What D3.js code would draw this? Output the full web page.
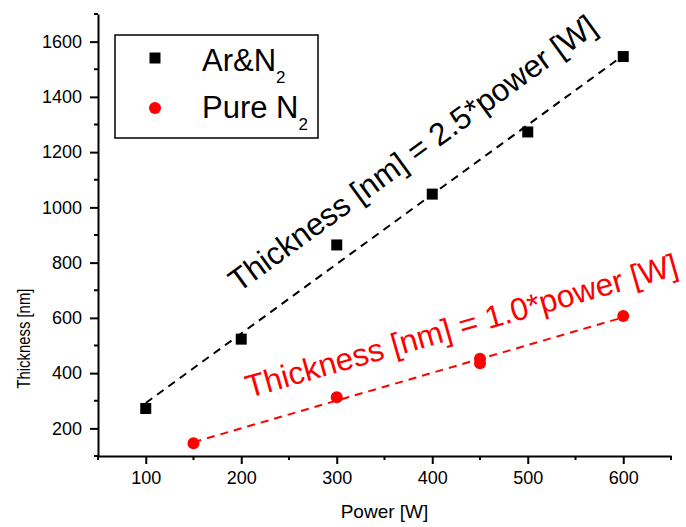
<!DOCTYPE html>
<html>
<head>
<meta charset="utf-8">
<script src="https://cdn.jsdelivr.net/npm/d3@7"></script>
<style>
  body { margin: 0; background: #fff; }
  svg { display: block; font-family: Arial, "Liberation Sans", sans-serif; }
</style>
</head>
<body>
<div id="chart"></div>
<script>
// Data
const arPower = [100, 200, 300, 400, 500, 600];
const arThickness = [272, 523, 864, 1048, 1273, 1546];
const n2Power = [150, 300, 450, 450, 600];
const n2Thickness = [146, 313, 452, 436, 607];
// dashed fit lines, end points [power, thickness]
const arFit = [[100, 292], [600, 1550]];
const n2Fit = [[150, 150], [600, 602]];
const xTicks = [100, 200, 300, 400, 500, 600];
const xMinor = [50, 150, 250, 350, 450, 550, 650];
const yTicks = [200, 400, 600, 800, 1000, 1200, 1400, 1600];
const yMinor = [100, 300, 500, 700, 900, 1100, 1300, 1500, 1700];

const width = 686, height = 527;
const font = "Arial, 'Liberation Sans', sans-serif";

const x = d3.scaleLinear().domain([50, 650]).range([98, 671]);
const y = d3.scaleLinear().domain([100, 1700]).range([456, 14]);

const svg = d3.select("#chart").append("svg")
    .attr("width", width)
    .attr("height", height)
    .attr("font-family", font);

// Axes
const xAxis = svg.append("g")
    .attr("transform", `translate(0,${y(100)})`)
    .call(d3.axisBottom(x).tickValues(xTicks).tickFormat(d3.format("d"))
      .tickSize(8).tickPadding(7).tickSizeOuter(0));
const yAxis = svg.append("g")
    .attr("transform", `translate(${x(50)},0)`)
    .call(d3.axisLeft(y).tickValues(yTicks).tickFormat(d3.format("d"))
      .tickSize(8).tickPadding(8).tickSizeOuter(0));

// minor ticks
svg.append("g").selectAll("line").data(xMinor).join("line")
    .attr("x1", d => x(d)).attr("x2", d => x(d))
    .attr("y1", y(100)).attr("y2", y(100) + 4)
    .attr("stroke", "#000").attr("stroke-width", 2);
svg.append("g").selectAll("line").data(yMinor).join("line")
    .attr("y1", d => y(d)).attr("y2", d => y(d))
    .attr("x1", x(50)).attr("x2", x(50) - 4)
    .attr("stroke", "#000").attr("stroke-width", 2);

[xAxis, yAxis].forEach(g => {
  g.attr("font-family", font);
  g.select(".domain").attr("stroke-width", 2);
  g.selectAll(".tick line").attr("stroke-width", 2);
  g.selectAll(".tick text")
    .attr("font-size", 18).attr("fill", "#000");
});

// Axis titles
svg.append("text")
    .attr("x", x(350)).attr("y", 518)
    .attr("text-anchor", "middle")
    .attr("font-size", 19)
    .text("Power [W]");
svg.append("text")
    .attr("transform", `translate(30,${y(525)}) rotate(-90)`)
    .attr("text-anchor", "middle")
    .attr("font-size", 18)
    .attr("textLength", 100)
    .attr("lengthAdjust", "spacingAndGlyphs")
    .text("Thickness [nm]");

// Fit lines
const line = d3.line().x(d => x(d[0])).y(d => y(d[1]));
svg.append("path").datum(arFit)
    .attr("d", line).attr("fill", "none")
    .attr("stroke", "#000").attr("stroke-width", 2)
    .attr("stroke-dasharray", "8,6");
svg.append("path").datum(n2Fit)
    .attr("d", line).attr("fill", "none")
    .attr("stroke", "#ff0000").attr("stroke-width", 2)
    .attr("stroke-dasharray", "8,6");

// Markers
const sq = 11;
svg.append("g").selectAll("rect").data(arPower).join("rect")
    .attr("x", d => x(d) - sq / 2)
    .attr("y", (d, i) => y(arThickness[i]) - sq / 2)
    .attr("width", sq).attr("height", sq)
    .attr("fill", "#000");
svg.append("g").selectAll("circle").data(n2Power).join("circle")
    .attr("cx", d => x(d))
    .attr("cy", (d, i) => y(n2Thickness[i]))
    .attr("r", 6)
    .attr("fill", "#ff0000");

// Annotations
svg.append("text")
    .attr("transform", `translate(${x(197)},${y(690)}) rotate(-36)`)
    .attr("font-size", 31.5)
    .attr("fill", "#000")
    .text("Thickness [nm] = 2.5*power [W]");
svg.append("text")
    .attr("transform", `translate(${x(208)},${y(310)}) rotate(-16)`)
    .attr("font-size", 31.7)
    .attr("fill", "#ff0000")
    .text("Thickness [nm] = 1.0*power [W]");

// Legend
const legend = svg.append("g");
legend.append("rect")
    .attr("x", 115).attr("y", 35).attr("width", 203).attr("height", 103)
    .attr("fill", "#fff").attr("stroke", "#000").attr("stroke-width", 1.5);
legend.append("rect")
    .attr("x", 155 - sq / 2).attr("y", 58 - sq / 2).attr("width", sq).attr("height", sq)
    .attr("fill", "#000");
legend.append("circle")
    .attr("cx", 155).attr("cy", 108).attr("r", 6).attr("fill", "#ff0000");

const labels = [["Ar&N", 71], ["Pure N", 118]];
labels.forEach(([t, by]) => {
  const tx = legend.append("text")
      .attr("x", 202).attr("y", by)
      .attr("font-size", 31);
  tx.append("tspan").text(t);
  tx.append("tspan").attr("font-size", 17).attr("dy", 12).text("2");
});
</script>
</body>
</html>
